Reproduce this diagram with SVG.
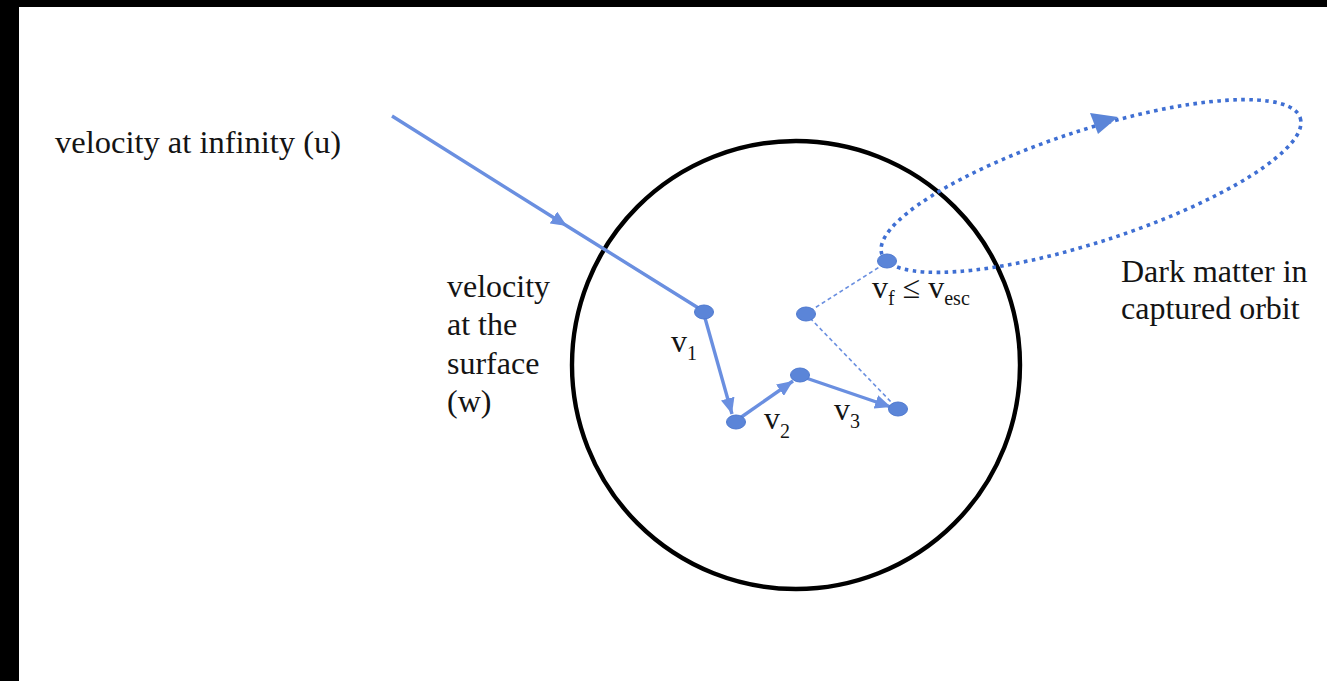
<svg xmlns="http://www.w3.org/2000/svg" width="1327" height="681" viewBox="0 0 1327 681">
<defs>
<style>
text{font-family:'Liberation Serif','DejaVu Serif',serif;fill:#141414;font-size:32px}
.s{font-size:20px}
.ln{fill:none;stroke:#6a8fe0;stroke-width:3.4}
.dash{fill:none;stroke:#6a8fe0;stroke-width:1.6;stroke-dasharray:4 3}
.dot{fill:#5b85d8;stroke:#4d78cf;stroke-width:1}
.orbit{fill:none;stroke:#3f6fd3;stroke-width:3.6;stroke-dasharray:3.6 4.4}
</style>
<marker id="ah" markerUnits="userSpaceOnUse" markerWidth="18" markerHeight="14" refX="16" refY="7" orient="auto">
<path d="M0,0 L16,7 L0,14 Z" fill="#6a8fe0"/>
</marker>
</defs>
<rect x="0" y="0" width="1327" height="681" fill="#fff"/>
<rect x="0" y="0" width="1327" height="7" fill="#000"/>
<rect x="0" y="0" width="19" height="681" fill="#000"/>

<g id="sphere">
<circle cx="796" cy="365" r="224" fill="none" stroke="#000" stroke-width="4.4"/>
</g>

<g id="orbit">
<ellipse cx="1091" cy="186" rx="220" ry="56" transform="rotate(-18 1091 186)" class="orbit"/>
<polygon points="1090,113 1118,117 1098,134" fill="#5b85d8"/>
</g>

<g id="connectors">
<path class="ln" d="M392,116 L567,226 L700,309" marker-mid="url(#ah)"/>
<line class="ln" x1="705" y1="318" x2="732" y2="414" marker-end="url(#ah)"/>
<line class="ln" x1="740" y1="418" x2="793" y2="381" marker-end="url(#ah)"/>
<line class="ln" x1="806" y1="378" x2="891" y2="407" marker-end="url(#ah)"/>
<line class="dash" x1="810" y1="311" x2="884" y2="264"/>
<line class="dash" x1="810" y1="318" x2="894" y2="405"/>
</g>

<g id="points">
<ellipse id="p1" class="dot" cx="704" cy="312" rx="9.5" ry="7"/>
<ellipse id="p2" class="dot" cx="736" cy="422" rx="9.5" ry="7"/>
<ellipse id="p3" class="dot" cx="800" cy="375" rx="9.5" ry="7"/>
<ellipse id="p4" class="dot" cx="898" cy="409" rx="9.5" ry="7"/>
<ellipse id="p5" class="dot" cx="806" cy="314" rx="9.5" ry="7"/>
<ellipse id="p6" class="dot" cx="887" cy="261" rx="9.5" ry="7"/>
</g>

<g id="labels">
<text x="55" y="153" style="font-size:32.5px">velocity at infinity (u)</text>
<text x="447" y="297">velocity</text>
<text x="447" y="335">at the</text>
<text x="447" y="374">surface</text>
<text x="447" y="412">(w)</text>
<text x="1121" y="282">Dark matter in</text>
<text x="1121" y="319">captured orbit</text>
<text x="671" y="352">v<tspan class="s" dy="8">1</tspan></text>
<text x="764" y="429">v<tspan class="s" dy="9">2</tspan></text>
<text x="834" y="420">v<tspan class="s" dy="8">3</tspan></text>
<text x="872" y="298">v<tspan class="s" dy="7">f</tspan><tspan dy="-7"> ≤ v</tspan><tspan class="s" dy="7">esc</tspan></text>
</g>
</svg>
